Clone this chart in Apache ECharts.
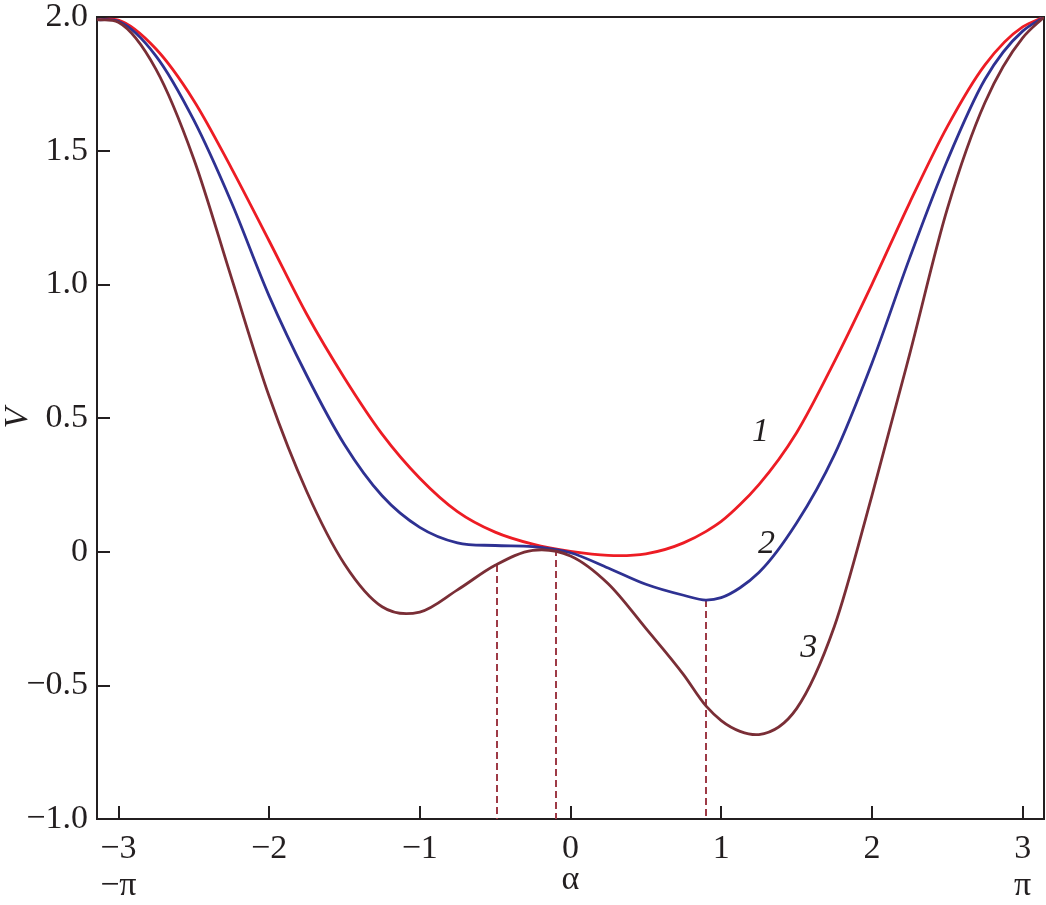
<!DOCTYPE html>
<html>
<head>
<meta charset="utf-8">
<script src="https://cdn.jsdelivr.net/npm/echarts@6/dist/echarts.min.js"></script>
<style>
html,body{margin:0;padding:0;background:#fff;}
#chart{width:1046px;height:905px;}
</style>
</head>
<body>
<div id="chart"></div>
<script>
// ---- data ----
var alpha = [-3.1416, -3.0, -2.75, -2.5, -2.25, -2.0, -1.75, -1.5, -1.25, -1.0, -0.75, -0.5, -0.25, 0, 0.25, 0.5, 0.75, 0.9, 1.0, 1.125, 1.25, 1.5, 1.75, 2.0, 2.25, 2.5, 2.75, 3.0, 3.1416];
var curve1 = [1.99, 1.988, 1.880, 1.688, 1.435, 1.163, 0.888, 0.650, 0.440, 0.275, 0.150, 0.073, 0.028, 0.001, -0.014, -0.008, 0.033, 0.076, 0.113, 0.176, 0.251, 0.445, 0.710, 1.000, 1.305, 1.590, 1.821, 1.963, 2.0];
var curve2 = [1.99, 1.984, 1.854, 1.615, 1.307, 0.957, 0.659, 0.401, 0.209, 0.091, 0.033, 0.023, 0.019, -0.004, -0.061, -0.122, -0.163, -0.181, -0.172, -0.135, -0.078, 0.107, 0.361, 0.705, 1.098, 1.463, 1.767, 1.947, 2.0];
var curve3 = [1.99, 1.980, 1.804, 1.470, 1.025, 0.582, 0.225, -0.046, -0.206, -0.226, -0.143, -0.051, 0.005, -0.016, -0.120, -0.287, -0.460, -0.578, -0.632, -0.672, -0.684, -0.587, -0.281, 0.210, 0.738, 1.282, 1.680, 1.922, 2.0];
var curveNames = ['1', '2', '3'];
var dashAlpha = [-0.49, -0.1, 0.9];
var dashTop = [-0.05, 0.01, -0.181];
var xTicks = [-3, -2, -1, 0, 1, 2, 3];
var piTicks = [-3, 3];
var piLabels = ['\u2212\u03c0', '\u03c0'];

function pairs(xs, ys){ return xs.map(function(x,i){ return [x, ys[i]]; }); }
function minus(s){ return String(s).replace('-', '\u2212'); }

var serif = 'Liberation Serif';
var ink = '#231f20';
var colors = ['#ed1c24', '#2e3192', '#7a2e36'];
var labelPos = [[1.26, 0.448], [1.30, 0.03], [1.58, -0.36]];

var chart = echarts.init(document.getElementById('chart'), null, {renderer: 'canvas'});

// smooth curve through the read points: cubic Hermite in data space, drawn as Beziers via the axes
function slopes(xs, ys){
  var n = xs.length, m = [];
  for (var i = 0; i < n; i++) {
    if (i === 0) { m.push((ys[1]-ys[0])/(xs[1]-xs[0])); continue; }
    if (i === n-1) { m.push((ys[n-1]-ys[n-2])/(xs[n-1]-xs[n-2])); continue; }
    var h0 = xs[i]-xs[i-1], h1 = xs[i+1]-xs[i];
    var s0 = (ys[i]-ys[i-1])/h0, s1 = (ys[i+1]-ys[i])/h1;
    m.push((s0*h1 + s1*h0)/(h0+h1));
  }
  return m;
}
function curveRenderer(ys, color){
  var m = slopes(alpha, ys);
  return function(params, api){
    if (params.dataIndex !== 0) return null;
    var p = api.coord([alpha[0], ys[0]]);
    var d = 'M' + p[0] + ' ' + p[1];
    for (var i = 0; i < alpha.length - 1; i++) {
      var h = alpha[i+1] - alpha[i];
      var c1 = api.coord([alpha[i] + h/3, ys[i] + m[i]*h/3]);
      var c2 = api.coord([alpha[i+1] - h/3, ys[i+1] - m[i+1]*h/3]);
      var e = api.coord([alpha[i+1], ys[i+1]]);
      d += ' C' + c1[0] + ' ' + c1[1] + ' ' + c2[0] + ' ' + c2[1] + ' ' + e[0] + ' ' + e[1];
    }
    return {type: 'path', shape: {pathData: d}, style: {fill: 'none', stroke: color, lineWidth: 2.8, lineJoin: 'round'}};
  };
}

var series = [curve1, curve2, curve3].map(function(ys, i){
  return {
    type: 'custom',
    name: curveNames[i],
    data: pairs(alpha, ys),
    encode: {x: 0, y: 1},
    renderItem: curveRenderer(ys, colors[i]),
    clip: true,
    z: 5 + i
  };
});

series.push({
  type: 'line',
  data: [],
  z: 2,
  markLine: {
    silent: true,
    symbol: ['none', 'none'],
    label: {show: false},
    lineStyle: {color: '#9e3a46', type: [7, 4], width: 2},
    data: dashAlpha.map(function(a, i){ return [{coord: [a, dashTop[i]]}, {coord: [a, -1]}]; })
  },
  markPoint: {
    silent: true,
    symbol: 'circle', symbolSize: 0,
    itemStyle: {color: ink},
    data: labelPos.map(function(pos, i){ return {coord: pos, value: curveNames[i], name: curveNames[i]}; }),
    label: {show: true, position: 'inside', formatter: function(p){ return p.name; },
      fontFamily: serif, fontStyle: 'italic', fontSize: 34, color: ink}
  }
});

var option = {
  animation: false,
  backgroundColor: '#fff',
  grid: {left: 97, right: 2, top: 17, bottom: 86, show: true, borderColor: ink, borderWidth: 2,
    backgroundColor: 'transparent', containLabel: false, outerBoundsMode: 'none'},
  xAxis: [{
    type: 'value', min: -3.1416, max: 3.1416,
    name: '\u03b1', nameLocation: 'middle', nameGap: 44, nameMoveOverlap: false,
    nameTextStyle: {fontFamily: serif, fontSize: 34, color: ink},
    axisLine: {show: true, onZero: false, lineStyle: {color: ink, width: 2}},
    axisTick: {show: true, inside: true, length: 13, lineStyle: {color: ink, width: 2}, customValues: xTicks},
    axisLabel: {show: true, customValues: xTicks, fontFamily: serif, fontSize: 34, color: ink, margin: 13, formatter: function(v){ return minus(v); }},
    splitLine: {show: false}
  }, {
    type: 'value', min: -3.1416, max: 3.1416, position: 'bottom', offset: 50,
    axisLine: {show: false}, axisTick: {show: false},
    axisLabel: {show: true, customValues: piTicks, fontFamily: serif, fontSize: 34, color: ink, margin: 0,
      formatter: function(v){ return v < 0 ? piLabels[0] : piLabels[1]; }},
    splitLine: {show: false}
  }],
  yAxis: {
    type: 'value', min: -1, max: 2, interval: 0.5,
    name: 'V', nameLocation: 'middle', nameGap: 62, nameRotate: 90, nameMoveOverlap: false,
    nameTextStyle: {fontFamily: serif, fontStyle: 'italic', fontSize: 34, color: ink},
    axisLine: {show: true, onZero: false, lineStyle: {color: ink, width: 2}},
    axisTick: {show: true, inside: true, length: 13, lineStyle: {color: ink, width: 2}},
    axisLabel: {fontFamily: serif, fontSize: 34, color: ink, margin: 9,
      formatter: function(v){ return v === 0 ? '0' : minus(v.toFixed(1)); }},
    splitLine: {show: false}
  },
  series: series
};
chart.setOption(option);
</script>
</body>
</html>
